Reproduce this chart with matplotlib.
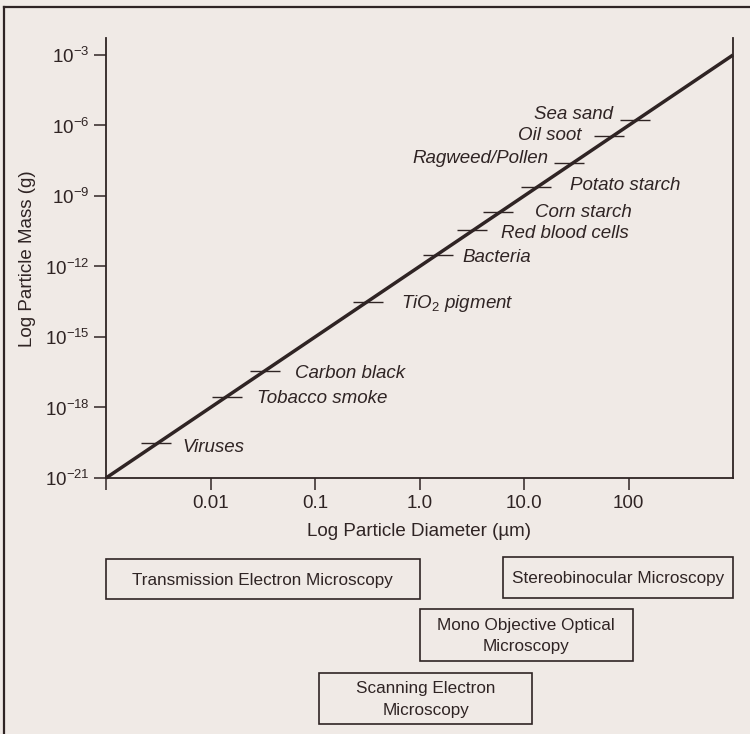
import matplotlib
matplotlib.use("Agg")
import matplotlib.pyplot as plt
from matplotlib.lines import Line2D
from matplotlib.patches import Rectangle

plt.rcParams['font.family'] = ['Liberation Sans', 'DejaVu Sans']
plt.rcParams['mathtext.fontset'] = 'custom'
plt.rcParams['mathtext.rm'] = 'Liberation Sans'
plt.rcParams['mathtext.it'] = 'Liberation Sans:italic'
plt.rcParams['mathtext.bf'] = 'Liberation Sans:bold'

# ---------------- data ----------------
particles = ["Viruses", "Tobacco smoke", "Carbon black", "TiO$_2$ pigment",
             "Bacteria", "Red blood cells", "Corn starch", "Potato starch",
             "Ragweed/Pollen", "Oil soot", "Sea sand"]
diameters_um = [0.003, 0.0145, 0.033, 0.32, 1.5, 3.2, 5.6, 13, 27, 65, 115]
masses_g = [3e-20, 2.8e-18, 3.5e-17, 3e-14, 3e-12, 3.5e-11, 2e-10, 2.5e-9,
            2.5e-8, 3.5e-7, 1.7e-6]

line_diam = [1e-3, 1e3]
line_mass = [1e-21, 1e-3]

x_ticks = [1e-3, 1e-2, 1e-1, 1, 10, 100]
x_tick_labels = ["", "0.01", "0.1", "1.0", "10.0", "100"]
y_exponents = [-3, -6, -9, -12, -15, -18, -21]

methods = ["Transmission Electron Microscopy", "Stereobinocular Microscopy",
           "Mono Objective Optical\nMicroscopy", "Scanning Electron\nMicroscopy"]
method_min_um = [1e-3, 6.3, 1.0, 0.11]
method_max_um = [1.0, 1000, 110, 12]

# ---------------- layout / style ----------------
W, H = 750, 734
bg = '#f0eae6'
ink = '#2f2424'
label_offsets = [(27, -4), (30, -2), (30, -2), (33, -1), (25, -2), (29, -3),
                 (37, 0), (34, 1), (-21, 5), (-27, 1), (-22, 6)]
box_rows = [(559, 599), (557, 598), (609, 661), (673, 724)]

fig = plt.figure(figsize=(W / 100, H / 100), dpi=100, facecolor=bg)

ax_l, ax_r, ax_b, ax_t = 106, 733, 478, 38
ax = fig.add_axes([ax_l / W, 1 - ax_b / H, (ax_r - ax_l) / W, (ax_b - ax_t) / H])
ax.set_facecolor(bg)
ax.set_xscale('log')
ax.set_yscale('log')
ax.set_xlim(1e-3, 1e3)
ax.set_ylim(1e-21, 10 ** (-21 + (ax_b - ax_t) / 23.5))

for s in ['left', 'bottom', 'right']:
    ax.spines[s].set_color(ink)
    ax.spines[s].set_linewidth(1.3)
ax.spines['top'].set_visible(False)

ax.set_xticks(x_ticks)
ax.set_xticklabels(x_tick_labels)
ax.xaxis.set_minor_locator(matplotlib.ticker.NullLocator())
ax.set_yticks([10.0 ** e for e in y_exponents])
ax.set_yticklabels([r"$10^{%d}$" % e for e in y_exponents])
ax.yaxis.set_minor_locator(matplotlib.ticker.NullLocator())
ax.tick_params(axis='both', direction='out', length=8.5, width=1.1,
               color=ink, labelcolor=ink, labelsize=13.5, pad=3.5)

ax.set_xlabel("Log Particle Diameter (µm)", fontsize=13.5, color=ink)
ax.xaxis.set_label_coords(0.499, (ax_b - 532) / (ax_b - ax_t))
ax.xaxis.label.set_va('center')
ax.set_ylabel("Log Particle Mass (g)", fontsize=13.5, color=ink)
ax.yaxis.set_label_coords((28 - ax_l) / (ax_r - ax_l), 0.498)
ax.yaxis.label.set_va('center')

# main line
ax.plot(line_diam, line_mass, color=ink, lw=2.5, solid_capstyle='butt', clip_on=False, zorder=3)
# particle dashes
ax.plot(diameters_um, masses_g, linestyle='none', marker='_', markersize=21.5,
        markeredgewidth=1.0, color=ink, zorder=4)

for name, d, m, (dx, dy) in zip(particles, diameters_um, masses_g, label_offsets):
    ax.annotate(name, (d, m), xytext=(dx, dy), textcoords='offset pixels',
                ha='left' if dx > 0 else 'right', va='center',
                fontsize=13.5, style='italic', color=ink)

# microscopy ranges
ax2 = fig.add_axes([ax_l / W, 1 - 730 / H, (ax_r - ax_l) / W, 180 / H])
ax2.set_xscale('log')
ax2.set_xlim(1e-3, 1e3)
ax2.set_ylim(730, 550)
ax2.axis('off')
for name, lo, hi, (top, bot) in zip(methods, method_min_um, method_max_um, box_rows):
    ax2.add_patch(Rectangle((lo, top), hi - lo, bot - top, facecolor='none',
                            edgecolor=ink, lw=1.2, clip_on=False))
    xc = (lo * hi) ** 0.5
    ax2.text(xc, (top + bot) / 2 + 1, name, ha='center', va='center',
             fontsize=12.3, color=ink, linespacing=1.5)

# page border
fig.add_artist(Line2D([4 / W, 4 / W], [0, 1 - 7 / H], transform=fig.transFigure,
                      color=ink, lw=1.6))
fig.add_artist(Line2D([4 / W, 1], [1 - 7 / H, 1 - 7 / H], transform=fig.transFigure,
                      color=ink, lw=1.6))

fig.savefig('out.png', dpi=100, facecolor=bg)
